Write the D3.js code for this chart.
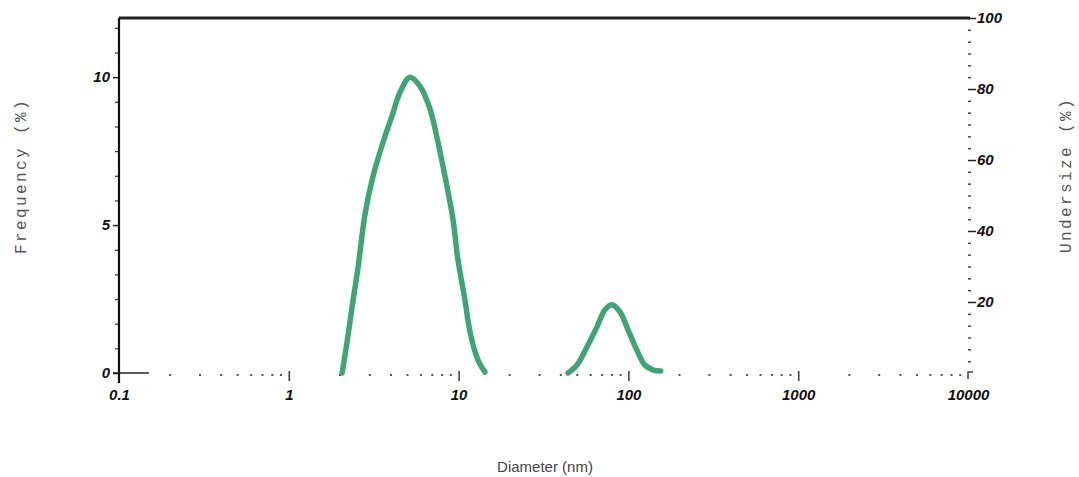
<!DOCTYPE html>
<html>
<head>
<meta charset="utf-8">
<script src="https://cdn.jsdelivr.net/npm/d3@7"></script>
<style>
  body { margin: 0; background: #fff; }
  .tick text { font-family: "Liberation Sans", Arial, sans-serif; font-weight: bold; font-style: italic; font-size: 15px; fill: #111; }
  .title-mono { font-family: "Liberation Mono", "DejaVu Sans Mono", monospace; font-size: 16px; fill: #555; letter-spacing: 2.4px; }
</style>
</head>
<body>
<svg width="1079" height="477"></svg>
<script>
// peak 1: diameter (nm) vs frequency (%)
var peak1 = [
  [2.06, 0], [2.20, 1.02], [2.36, 2.24], [2.56, 3.59], [2.81, 5.36], [3.13, 6.64],
  [3.59, 7.80], [4.05, 8.68], [4.52, 9.49], [5.17, 10.0], [5.93, 9.69], [6.79, 8.92],
  [7.56, 7.80], [8.32, 6.64], [9.27, 5.19], [9.91, 3.83], [10.9, 2.47], [11.7, 1.36],
  [13.0, 0.44], [14.3, 0.03]
];
// peak 2
var peak2 = [
  [44.1, 0], [49.8, 0.27], [57.0, 0.88], [65.3, 1.56], [72.8, 2.14], [80.0, 2.31],
  [89.2, 2.07], [99.5, 1.46], [112, 0.78], [125, 0.27], [140, 0.1], [155, 0.07]
];

var xMajor = [0.1, 1, 10, 100, 1000, 10000];
var xLabels = ["0.1", "1", "10", "100", "1000", "10000"];
var yLeftMajor = [0, 5, 10];
var yRightMajor = [20, 40, 60, 80, 100];

var svg = d3.select("svg"),
    margin = {left: 119, right: 968, top: 18, bottom: 373};

var x = d3.scaleLog().domain([0.1, 10000]).range([margin.left, margin.right]),
    y = d3.scaleLinear().domain([0, 12]).range([margin.bottom, margin.top]),
    yR = d3.scaleLinear().domain([0, 100]).range([margin.bottom, margin.top]);

var green = "#3ea676";

// minor tick values
var xMinor = [];
xMajor.slice(0, -1).forEach(function(m) {
  for (var k = 2; k <= 9; k++) xMinor.push(m * k);
});
var yLeftMinor = d3.range(0, 12.01, 5 / 6).filter(function(v) {
  return Math.abs(v % 5) > 0.01 && Math.abs(v % 5 - 5) > 0.01;
});
var yRightMinor = d3.range(0, 100.01, 10 / 3).filter(function(v) {
  return Math.abs(v % 20) > 0.01 && Math.abs(v % 20 - 20) > 0.01;
});

// top border
svg.append("line")
    .attr("x1", x(0.1)).attr("x2", x(10000) + 2)
    .attr("y1", y(12)).attr("y2", y(12))
    .attr("stroke", "#222").attr("stroke-width", 3);

// left axis
var gl = svg.append("g").attr("transform", "translate(" + margin.left + ",0)");
gl.append("g")
    .call(d3.axisLeft(y).tickValues(yLeftMinor).tickSize(4).tickFormat(""))
    .call(function(g) { g.select(".domain").remove(); })
    .selectAll("line").attr("stroke", "#333").attr("stroke-width", 1.2);
gl.append("g")
    .call(d3.axisLeft(y).tickValues(yLeftMajor).tickSize(6).tickPadding(3))
    .call(function(g) { g.select(".domain").remove(); })
    .selectAll("line").attr("stroke", "#222").attr("stroke-width", 1.5);
gl.append("line")
    .attr("y1", y(12)).attr("y2", y(0) + 10)
    .attr("stroke", "#111").attr("stroke-width", 2.2);

// short x baseline fragment at origin
svg.append("line")
    .attr("x1", x(0.1) - 6).attr("x2", x(0.15))
    .attr("y1", y(0)).attr("y2", y(0))
    .attr("stroke", "#222").attr("stroke-width", 1.5);

// bottom axis: dotted minor ticks, short majors
var gb = svg.append("g").attr("transform", "translate(0," + (margin.bottom + 2) + ")");
gb.selectAll("rect.minor")
  .data(xMinor)
  .enter().append("rect")
    .attr("class", "minor")
    .attr("x", function(d) { return x(d) - 1; })
    .attr("y", -1)
    .attr("width", 2).attr("height", 2)
    .attr("fill", "#555");
gb.append("g")
    .call(d3.axisBottom(x).tickValues(xMajor.slice(1, -1)).tickSize(6).tickFormat(""))
    .call(function(g) { g.select(".domain").remove(); })
    .selectAll("line").attr("stroke", "#333").attr("stroke-width", 1.5).attr("y1", -4);
gb.append("g")
    .call(d3.axisBottom(x).tickValues(xMajor).tickSize(0).tickPadding(14)
      .tickFormat(function(d, i) { return xLabels[i]; }))
    .call(function(g) { g.select(".domain").remove(); });

// right axis
var gr = svg.append("g").attr("transform", "translate(" + margin.right + ",0)");
gr.append("g")
    .call(d3.axisRight(yR).tickValues(yRightMinor).tickSize(3).tickFormat(""))
    .call(function(g) { g.select(".domain").remove(); })
    .selectAll("line").attr("stroke", "#444").attr("stroke-width", 1.5);
gr.append("g")
    .call(d3.axisRight(yR).tickValues(yRightMajor).tickSize(8).tickPadding(1))
    .call(function(g) { g.select(".domain").remove(); })
    .selectAll("line").attr("stroke", "#222").attr("stroke-width", 1.5);
gr.append("path")
    .attr("d", "M0," + (yR(0) + 6) + "V" + (yR(0) - 1) + "H5")
    .attr("fill", "none").attr("stroke", "#444").attr("stroke-width", 1.5);

// curves
var line = d3.line()
    .x(function(d) { return x(d[0]); })
    .y(function(d) { return y(d[1]); })
    .curve(d3.curveCatmullRom.alpha(0.5));

[peak1, peak2].forEach(function(p) {
  svg.append("path")
      .attr("d", line(p))
      .attr("fill", "none")
      .attr("stroke", green)
      .attr("stroke-width", 5.5)
      .attr("stroke-linejoin", "round")
      .attr("stroke-linecap", "round");
});

// axis titles
svg.append("text")
    .attr("class", "title-mono")
    .attr("transform", "translate(26,176) rotate(-90)")
    .attr("text-anchor", "middle")
    .text("Frequency (%)");
svg.append("text")
    .attr("class", "title-mono")
    .attr("transform", "translate(1071,175) rotate(-90)")
    .attr("text-anchor", "middle")
    .text("Undersize (%)");
svg.append("text")
    .attr("x", 545).attr("y", 472)
    .attr("text-anchor", "middle")
    .style("font-family", "'Liberation Sans', Arial, sans-serif")
    .style("font-size", "15px")
    .style("fill", "#444")
    .text("Diameter (nm)");
</script>
</body>
</html>
